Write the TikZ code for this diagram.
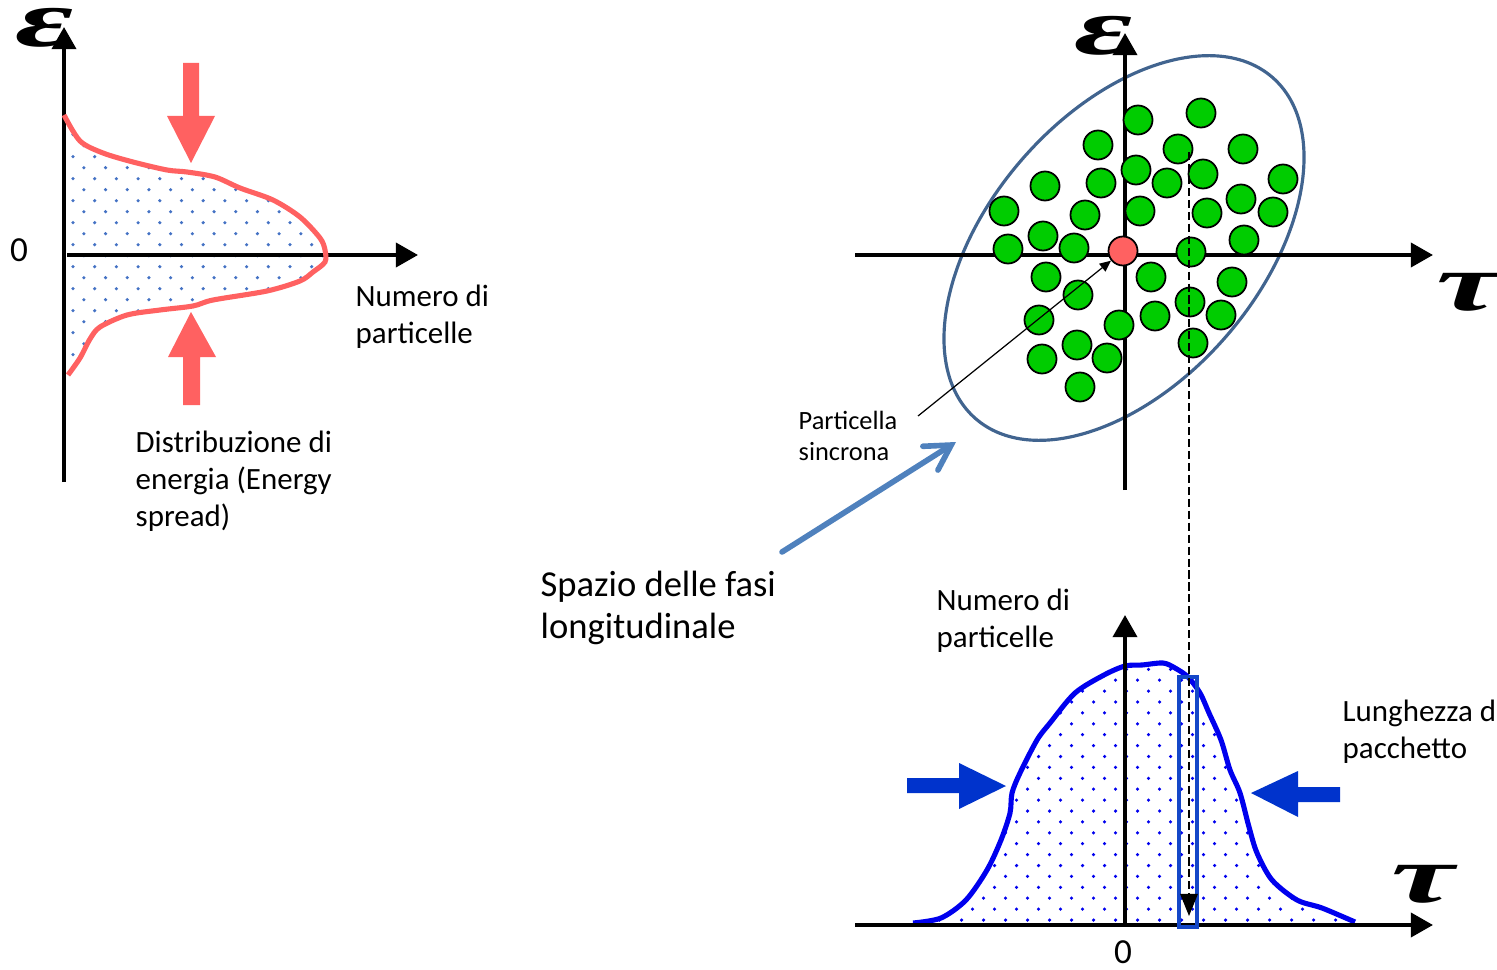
\documentclass[tikz,border=0pt]{standalone}
\usepackage{fontspec}
\setmainfont{Carlito}
\newfontfamily\greekfont{Liberation Serif}
\usetikzlibrary{arrows.meta}
\definecolor{energyred}{HTML}{FF6161}
\definecolor{dotsteel}{HTML}{4472C4}
\definecolor{ellipseblue}{HTML}{41648F}
\definecolor{bunchgreen}{HTML}{00CC00}
\definecolor{bunchblue}{HTML}{0000EE}
\definecolor{pointerblue}{HTML}{0033CC}
\definecolor{sliceblue}{HTML}{1447C8}
\definecolor{officeblue}{HTML}{4F81BD}

\begin{document}
\begin{tikzpicture}[
	x=0.01cm, y=-0.01cm,
	axis/.style={line width=1.2pt, -{Triangle[length=6.3pt, width=6.8pt]}},
	greek/.style={font=\greekfont\bfseries\itshape\fontsize{14.4}{14.4}\selectfont, inner sep=0, xscale=2.8, yscale=1.6},
	labeltext/.style={font=\fontsize{8.8}{10.3}\selectfont, align=left, inner sep=0, anchor=base west},
	particle/.style={circle, draw=black, line width=0.5pt, fill=bunchgreen, minimum size=0.29cm, inner sep=0}
	]
	
	\useasboundingbox (0,0) rectangle (1497,970);
	\clip (0,0) rectangle (1497,970);
	
	% ==========================================
	% PANEL 1: energy distribution
	% ==========================================
	
	\path[save path=\energypath] plot[smooth, tension=0.5] coordinates {
		(64,115) (80,141) (103,153) (133,162) (167,170) (187,172) (215,177) (240,188)
		(273,200) (300,217) (320,238) (325,250) (325,262) (313,272) (300,281) (267,291)
		(213,300) (193,306) (160,310) (127,315) (100,327) (90,339) (80,358) (68,375)};
	
	% dotted filling under the curve
	\begin{scope}
		\clip[use path=\energypath];
		\foreach \i in {0,...,25}
		\foreach \j in {0,...,12}
		\fill[dotsteel] ({73 + 21.7*\j + 10.85*mod(\i,2)}, {112.7 + 11*\i}) circle[radius=0.5pt];
	\end{scope}
	
	\coordinate (eaxisbot) at (64,482);
	\coordinate (eaxistop) at (64,27);
	\coordinate (naxisleft) at (67,255);
	\coordinate (naxisright) at (418,255);
	\draw[axis] (eaxisbot) -- (eaxistop);
	\draw[axis] (naxisleft) -- (naxisright);
	\draw[energyred, line width=1.45pt, use path=\energypath];
	
	% arrows squeezing the spread
	\fill[energyred] (183,63) -- (199,63) -- (199,116) -- (215,116) -- (191,163) -- (167,116) -- (183,116) -- cycle;
	\fill[energyred] (183,405) -- (200,405) -- (200,357) -- (216,357) -- (191,312) -- (168,357) -- (183,357) -- cycle;
	
	\node[greek] (epsleft) at (45,28) {ε};
	\node[font=\fontsize{10}{10}\selectfont, inner sep=0] (zeroleft) at (19,250) {0};
	\node[labeltext] (numleft) at (355,343) {Numero di\\particelle};
	\node[labeltext, font=\fontsize{8.8}{10.5}\selectfont] (spread) at (135,526)
	{Distribuzione di\\energia (Energy\\spread)};
	
	% ==========================================
	% PANEL 2: longitudinal phase space
	% ==========================================
	
	\draw[ellipseblue, line width=0.9pt, rotate around={49:(1124,248)}]
	(1124,248) ellipse [x radius=2.26cm, y radius=1.35cm];
	
	\coordinate (taxisleft) at (855,255);
	\coordinate (taxisright) at (1433,255);
	\coordinate (eaxis2bot) at (1125,490);
	\coordinate (eaxis2top) at (1125,33);
	\draw[axis] (taxisleft) -- (taxisright);
	\draw[axis] (eaxis2bot) -- (eaxis2top);
	
	% the particles of the bunch
	\foreach \px/\py [count=\k] in {
		1138/120, 1201/113, 1098/145, 1178/149, 1243/149, 1136/170, 1203/174, 1167/183,
		1045/186, 1101/183, 1283/179, 1241/199, 1004/211, 1085/215, 1140/211, 1207/213,
		1273/212, 1043/236, 1244/240, 1008/249, 1074/248, 1191/252, 1046/277, 1151/277,
		1232/282, 1078/295, 1190/302, 1039/320, 1119/325, 1155/316, 1221/315, 1077/345,
		1193/343, 1042/359, 1107/358, 1080/387}
	\node[particle] (p\k) at (\px,\py) {};
	\node[particle, fill=energyred] (sync) at (1123,251) {};
	
	\node[greek] (epsright) at (1104,36) {ε};
	\node[greek] (tauright) at (1468,292) {τ};
	
	\node[labeltext, font=\fontsize{7.5}{8.6}\selectfont] (syncname) at (798,460) {Particella\\sincrona};
	\coordinate (syncfoot) at (918,416);
	\draw[-{Triangle[length=3.2pt, width=2.8pt]}, line width=0.35pt] (syncfoot) -- (sync);
	
	\node[labeltext, font=\fontsize{10.4}{11.7}\selectfont] (phasespace) at (540,638)
	{Spazio delle fasi\\longitudinale};
	\coordinate (phasefoot) at (782,552);
	\coordinate (phasetip) at (956,442);
	\draw[officeblue, line width=1.6pt, line cap=round,
	-{Straight Barb[length=7pt, width=8pt, line cap=round]}] (phasefoot) -- (phasetip);
	
	% ==========================================
	% PANEL 3: bunch length
	% ==========================================
	
	\path[save path=\bunchpath] plot[smooth, tension=0.5] coordinates {
		(913,923) (941,918) (966,900) (987,870) (1001,840) (1010,813) (1012,793) (1020,773)
		(1037,740) (1050,723) (1075,693) (1104,675) (1125,666) (1142,665) (1163,663) (1175,668)
		(1188,677) (1200,693) (1209,713) (1221,740) (1230,770) (1240,793) (1249,827) (1257,853)
		(1272,880) (1297,900) (1322,908) (1355,922)};
	
	\begin{scope}
		\clip[use path=\bunchpath];
		\foreach \i in {0,...,24}
		\foreach \j in {-3,...,18}
		\fill[bunchblue] ({961.5 + 22*\j + 11*mod(\i,2)}, {920 - 10.9*\i}) circle[radius=0.5pt];
	\end{scope}
	\draw[bunchblue, line width=1.45pt, use path=\bunchpath];
	
	\coordinate (taxis2left) at (855,925);
	\coordinate (taxis2right) at (1433,925);
	\coordinate (naxis2bot) at (1125,925);
	\coordinate (naxis2top) at (1125,615);
	\draw[axis] (taxis2left) -- (taxis2right);
	\draw[axis] (naxis2bot) -- (naxis2top);
	
	\draw[sliceblue, line width=1pt] (1179,677) rectangle (1197,927);
	
	\fill[pointerblue] (907,778) -- (959,778) -- (959,763) -- (1006,786) -- (959,809) -- (959,793) -- (907,793) -- cycle;
	\fill[pointerblue] (1340,787) -- (1298,787) -- (1298,771) -- (1251,793) -- (1298,817) -- (1298,802) -- (1340,802) -- cycle;
	
	\node[greek] (taubottom) at (1423,884) {τ};
	\node[font=\fontsize{10}{10}\selectfont, inner sep=0] (zerobottom) at (1123,952) {0};
	\node[labeltext, font=\fontsize{8.8}{10.5}\selectfont] (numbottom) at (936,647) {Numero di\\particelle};
	\node[labeltext] (bunchlen) at (1342,758) {Lunghezza d\\pacchetto};
	
	% projection of one slice of the phase space
	\coordinate (slicetop) at (1189,152);
	\coordinate (slicebot) at (1189,916);
	\draw[dashed, dash pattern=on 2.3pt off 1.1pt, line width=0.4pt,
	-{Triangle[length=6.3pt, width=5pt]}] (slicetop) -- (slicebot);
\end{tikzpicture}
\end{document}
